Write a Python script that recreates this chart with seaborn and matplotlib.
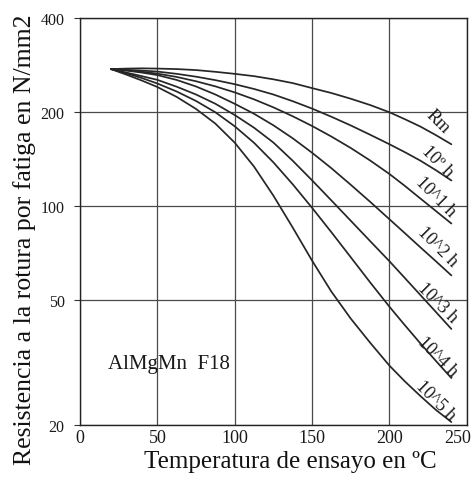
import matplotlib
matplotlib.use("Agg")
import matplotlib.pyplot as plt
import matplotlib.ticker as mticker
import matplotlib.transforms as mtransforms
import seaborn as sns
import pandas as pd

# Temperature points (ºC) where the curves were read
temps = [20, 30, 40, 50, 62.5, 75, 87.5, 100, 112.5, 125, 137.5, 150,
         162.5, 175, 187.5, 200, 210, 220, 230, 240]

# Fatigue strength (N/mm2) for each curve
rm    = [275, 276, 276.5, 276, 275, 273, 269.5, 265.5, 261, 255, 248, 239,
         230.5, 221, 211, 200, 190, 180, 169, 158]
h10_0 = [275, 273.5, 272, 270, 265.5, 260, 253.5, 246, 237.5, 228, 217, 205.5,
         193.5, 181.5, 169.5, 158, 149, 140, 130.5, 121]
h10_1 = [275, 272.6, 269.6, 266, 259.5, 251.4, 242.1, 231.6, 220, 207.4, 194.2, 180.8,
         167.2, 153.7, 140.2, 126.9, 116.2, 105.9, 96.6, 88.1]
h10_2 = [275, 272, 268, 263.1, 253.8, 241.9, 228, 212.9, 197.8, 181.7, 165.1, 148.4,
         132.4, 117.2, 103.4, 90.9, 82, 73.9, 66.7, 60.1]
h10_3 = [275, 268, 261, 254, 241.5, 228, 213, 196, 178.5, 160, 139.9, 121.1,
         104.4, 89.9, 77.4, 66.7, 58.9, 52, 45.9, 40.5]
h10_4 = [275, 266.7, 257.4, 247.3, 233.1, 217.4, 200, 180.4, 159.7, 138.3, 117.6, 98.9,
         82.6, 68.7, 57.1, 47.7, 41.6, 36.4, 32, 28.2]
h10_5 = [275, 264, 252.7, 241, 224, 205, 184, 159.9, 134, 108.2, 85.5, 67,
         53.3, 43.7, 36.6, 30.9, 27.5, 24.7, 22.3, 20.4]

curve_names = ["Rm", "10º h", "10^1 h", "10^2 h", "10^3 h", "10^4 h", "10^5 h"]
curve_values = [rm, h10_0, h10_1, h10_2, h10_3, h10_4, h10_5]

# Label anchor values (x, y) in data units
label_x = [231, 231, 230, 231, 231, 231, 230]
label_y = [188, 140, 108, 74.6, 49.5, 33.2, 23.9]

x_ticks = [0, 50, 100, 150, 200, 250]
y_ticks = [20, 50, 100, 200, 400]

rows = []
for name, vals in zip(curve_names, curve_values):
    for t, v in zip(temps, vals):
        rows.append({"temp": t, "val": v, "curve": name})
df = pd.DataFrame(rows)

sns.set_theme(style="white")
plt.rcParams["font.family"] = ["Liberation Serif", "DejaVu Serif"]

fig = plt.figure(figsize=(4.73, 4.81), dpi=100)
ax = fig.add_axes([0.169, 0.115, 0.818, 0.845])

sns.lineplot(data=df, x="temp", y="val", hue="curve",
             palette=["#262626"] * len(curve_names), legend=False,
             linewidth=1.25, ax=ax, sort=True)

ax.set_yscale("log")
ax.set_xlim(0, 250)
ax.set_ylim(20, 400)
ax.set_xticks(x_ticks)
ax.set_yticks(y_ticks)
ax.yaxis.set_major_formatter(mticker.FixedFormatter([str(v) for v in y_ticks]))
ax.yaxis.set_minor_locator(mticker.NullLocator())
ax.set_xticklabels([str(v) for v in x_ticks])

ax.grid(True, color="#4a4a4a", linewidth=0.9)
for s in ax.spines.values():
    s.set_color("#222222")
    s.set_linewidth(1.0)

ax.tick_params(axis="y", which="major", length=4, width=0.8, color="#333333",
               labelsize=11.5, pad=7, left=True, labelcolor="#1a1a1a")
ax.tick_params(axis="x", which="major", length=0, labelsize=13, pad=3,
               labelcolor="#1a1a1a")

# last x tick label sits a little left of its tick, as in the original
last = ax.get_xticklabels()[-1]
last.set_transform(last.get_transform() +
                   mtransforms.ScaledTranslation(-9 / 100, 0, fig.dpi_scale_trans))

ax.set_xlabel("Temperatura de ensayo en ºC", fontsize=18, color="#111111")
ax.xaxis.set_label_coords(0.543, -0.062)
ax.set_ylabel("Resistencia a la rotura por fatiga en N/mm2", fontsize=18.5,
              color="#111111")
ax.yaxis.set_label_coords(-0.114, 0.457)

for name, lx, ly in zip(curve_names, label_x, label_y):
    ax.text(lx, ly, name, rotation=-45, ha="center", va="center",
            fontsize=13, color="#1a1a1a", rotation_mode="anchor")

ax.text(18, 31.3, "AlMgMn  F18", fontsize=15, ha="left", va="center",
        color="#1a1a1a")

fig.savefig("out.png", dpi=100, facecolor="white")
